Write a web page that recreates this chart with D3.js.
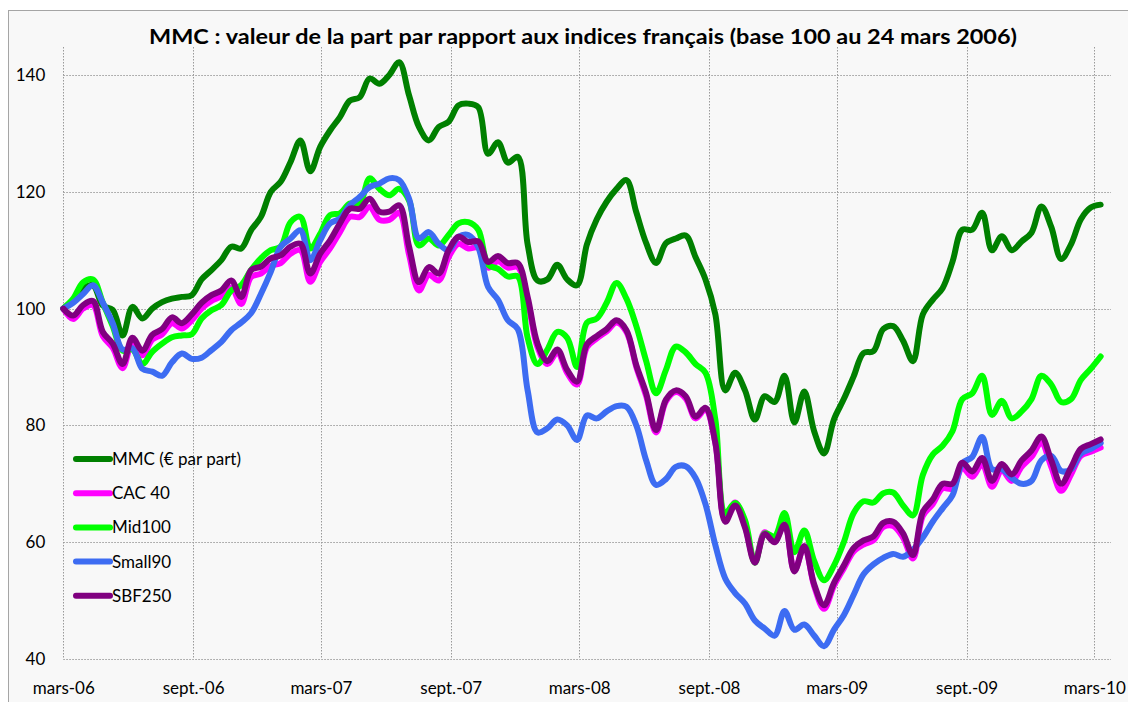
<!DOCTYPE html>
<html>
<head>
<meta charset="utf-8">
<script src="https://cdn.jsdelivr.net/npm/d3@7"></script>
<style>
  html, body { margin: 0; padding: 0; background: #ffffff; }
  svg { display: block; font-family: Lato, "Open Sans", "Liberation Sans", sans-serif; }
</style>
</head>
<body>
<svg id="chart" width="1128" height="702"></svg>
<script>
// ---------------- DATA ----------------
const startDate = "2006-03-24";           // base 100, biweekly observations
const stepDays = 14;

const seriesNames = ["MMC (€ par part)", "CAC 40", "Mid100", "Small90", "SBF250"];

const mmc = [100,101.5,103.5,104,100.5,99.8,95.4,100.3,98.3,100,101.1,101.7,102,102.3,105,106.6,108.3,110.6,110.3,113.4,115.7,
  120,121.7,125.1,128.8,123.5,127.7,130.5,132.8,135.6,136.2,139.4,138.5,140,142.2,136.5,131.1,128.8,131.1,132,134.8,135.1,
  134.5,126.5,128.5,125,126,111,104.8,105,107.5,105,104,111,115.3,118.3,120.5,122,116.5,111.2,107.8,111.2,112,112.5,
  108.8,105,99,86,89,86,81,85,84,88.5,80.5,85.8,79,75.2,81,84.5,88.4,92.4,92.7,96.5,97,
  94.5,91,99,101.5,103.5,108,113.5,113.5,116.4,110,112.4,110,111.5,113,117.5,114,108.5,111,115.3,117.3,117.8];

const cac40 = [100,98.2,100,100.6,95.3,93.3,89.8,94.2,92,94.7,95.6,97.5,96.6,98,100,101.3,102.1,103.6,100.8,105.4,106,
  107.3,107.8,109.4,110,104.6,108,110.3,113.1,115.7,115.7,117.4,115.2,115.2,116.4,109.2,103.1,105.8,104.8,108.8,111.1,110.3,
  110.4,107,108.1,107,107.1,101.4,93.4,90.5,92.5,89,87,93.4,94.9,96.1,97.6,96,90,85,78.8,84.1,85.7,84.6,
  81.2,82.7,77,63.8,66.8,62.8,56.8,61.7,60.2,63.2,55.1,59.3,52.5,48.6,52.5,55.5,58.4,59.6,60.3,62.6,62.8,
  60.8,57.2,64.5,66.5,69.2,69.2,72.7,71.2,73.4,69.5,72.3,70.5,72.9,74.6,77,72.9,68.8,71.6,74.8,75.5,76.2];

const mid100 = [100,101.7,104.5,105,101,97,92.8,93,90.5,92.6,94,95.1,95.4,95.6,98.3,99.7,100.6,103.1,104,106.6,108.6,
  110,110.6,114.8,115.7,110.3,112.8,116,116.3,118,118,122.3,120.5,119.4,120.5,118.5,110.8,112,110.8,112.6,114.6,114.8,
  113.5,107.5,106.8,105.5,105.5,95,90.5,93,96,95,90,97.6,98.3,101,104.4,101.7,97,91,85.5,89.5,93.5,92.5,
  90.5,89,81,65,66.7,63.8,56.5,61.5,61,65,58.3,62,56.8,53.5,56,60,65,67,66.8,68.4,68.5,
  66.3,64.6,71.5,75,76.5,79,84.5,85.5,88.5,81.8,84.2,81.2,82.4,84.5,88.5,87,84,84.5,87.8,89.7,91.8];

const small90 = [100,101,102.5,104,101,97.5,93,93.2,89.7,89.2,88.5,90.8,92.3,91.4,91.6,92.9,94.3,96.3,97.6,99.2,102.5,
  106.3,110.6,112,113.4,108.3,111.7,114.6,115.4,117.7,119.1,120.8,121.4,122.3,122,118.8,112,113.1,111.1,110,112.3,112.6,
  110.5,103.7,101.5,98,96.5,86,78.8,79.5,81,80,77.5,81.7,81.2,82.4,83.3,83.2,80,74,69.8,70.8,72.9,73,
  71,66.5,59.5,53.8,51.3,49.5,46.6,45.2,44,48.2,45,45.9,44,42.2,45,47.5,51,54.5,56.2,57.3,58,
  57.5,58.7,60.8,63.5,65.8,68,73.5,74.6,78,72.5,72.5,71,70,70.5,74,74.8,72.2,72.5,75.2,76,77];

const sbf250 = [100,98.8,100.6,101.3,96,94,90.5,95,92.8,95.5,96.5,98.5,97.5,99,101,102.3,103.1,104.8,102,106.6,107.2,
  108.6,109.1,110.6,111.1,106,109.4,111.7,114.6,117.1,117.1,118.8,116.6,116.6,117.7,110.6,104.5,107.1,106,110,112.3,111.4,
  111.5,108,109,107.8,107.8,102,94,91,93,89.5,87.5,93.9,95.3,96.5,98,96.3,90.3,85.5,79.2,84.4,86,85,
  81.5,83,77,63.5,66.3,62.5,56.5,61.4,60,63,55,59.3,52.8,49.2,53,56,59,60.3,61,63.3,63.5,
  61.5,57.8,65.2,67.3,70,70,73.6,72.1,74.4,70.5,73.4,71.6,74,75.7,78.1,74,70,72.8,76,76.8,77.6];

const seriesColors = ["#008000", "#ff00ff", "#00ff00", "#3d6cf2", "#800080"];

const xTickDates = ["2006-03-24","2006-09-24","2007-03-24","2007-09-24","2008-03-24","2008-09-24","2009-03-24","2009-09-24","2010-03-24"];
const xTickLabels = ["mars-06","sept.-06","mars-07","sept.-07","mars-08","sept.-08","mars-09","sept.-09","mars-10"];
const yTicks = [40, 60, 80, 100, 120, 140];

const title = "MMC : valeur de la part par rapport aux indices français (base 100 au 24 mars 2006)";

// ---------------- BUILD ----------------
const parse = d3.timeParse("%Y-%m-%d");
const t0 = parse(startDate);
const dates = mmc.map((_, i) => d3.timeDay.offset(t0, stepDays * i));
const allSeries = [mmc, cac40, mid100, small90, sbf250];

const svg = d3.select("#chart");

// chart area frame
svg.append("rect")
  .attr("x", 8.5).attr("y", 10.5)
  .attr("width", 1140).attr("height", 720)
  .attr("fill", "#f8f8f8")
  .attr("stroke", "#a5a5a5").attr("stroke-width", 1);

const plotLeft = 63.3, plotRight = 1111, plotTop = 47, plotBottom = 659;

const x = d3.scaleTime()
  .domain([parse(xTickDates[0]), parse(xTickDates[xTickDates.length - 1])])
  .range([plotLeft, 1094.3]);
const y = d3.scaleLinear().domain([40, 140]).range([plotBottom, 75]);

// gridlines
const grid = svg.append("g").attr("class", "grid");
grid.selectAll("line.h").data(yTicks).enter().append("line")
  .attr("x1", plotLeft).attr("x2", plotRight)
  .attr("y1", d => Math.round(y(d)) + 0.5).attr("y2", d => Math.round(y(d)) + 0.5)
  .attr("stroke", "#9a9a9a").attr("stroke-width", 1).attr("stroke-dasharray", "1.5,1.5");
grid.selectAll("line.v").data(xTickDates).enter().append("line")
  .attr("x1", d => Math.round(x(parse(d))) + 0.5).attr("x2", d => Math.round(x(parse(d))) + 0.5)
  .attr("y1", plotTop).attr("y2", plotBottom)
  .attr("stroke", "#9a9a9a").attr("stroke-width", 1).attr("stroke-dasharray", "1.5,1.5");

// axes (labels only)
const yAxis = d3.axisLeft(y).tickValues(yTicks).tickSize(0).tickPadding(18);
svg.append("g").attr("transform", `translate(${plotLeft},0)`).call(yAxis)
  .call(g => g.select(".domain").remove())
  .selectAll("text").attr("font-size", 17).attr("fill", "#000").attr("font-family", "Lato, sans-serif");

const xAxis = d3.axisBottom(x)
  .tickValues(xTickDates.map(parse))
  .tickFormat((d, i) => xTickLabels[i])
  .tickSize(0).tickPadding(23);
svg.append("g").attr("transform", `translate(0,${plotBottom})`).call(xAxis)
  .call(g => g.select(".domain").remove())
  .selectAll("text").attr("font-size", 17).attr("fill", "#000").attr("font-family", "Lato, sans-serif");

// lines
const line = d3.line()
  .x((d, i) => x(dates[i]))
  .y(d => y(d))
  .curve(d3.curveCatmullRom.alpha(0.5));

svg.append("g").selectAll("path").data(allSeries).enter().append("path")
  .attr("d", d => line(d))
  .attr("fill", "none")
  .attr("stroke", (d, i) => seriesColors[i])
  .attr("stroke-width", 6)
  .attr("stroke-linejoin", "round")
  .attr("stroke-linecap", "round");

// legend
const legend = svg.append("g").attr("transform", "translate(76,459)");
seriesNames.forEach((name, i) => {
  const g = legend.append("g").attr("transform", `translate(0,${i * 34.2})`);
  g.append("line").attr("x1", 0).attr("x2", 34).attr("y1", 0).attr("y2", 0)
    .attr("stroke", seriesColors[i]).attr("stroke-width", 6).attr("stroke-linecap", "round");
  g.append("text").attr("x", 36).attr("y", 0).attr("dy", "0.35em")
    .attr("font-size", 17).attr("fill", "#000").text(name);
});

// title
svg.append("text")
  .attr("x", 583).attr("y", 44)
  .attr("text-anchor", "middle")
  .attr("font-size", 21.5).attr("font-weight", "bold").attr("fill", "#000")
  .attr("textLength", 868).attr("lengthAdjust", "spacingAndGlyphs")
  .text(title);
</script>
</body>
</html>
